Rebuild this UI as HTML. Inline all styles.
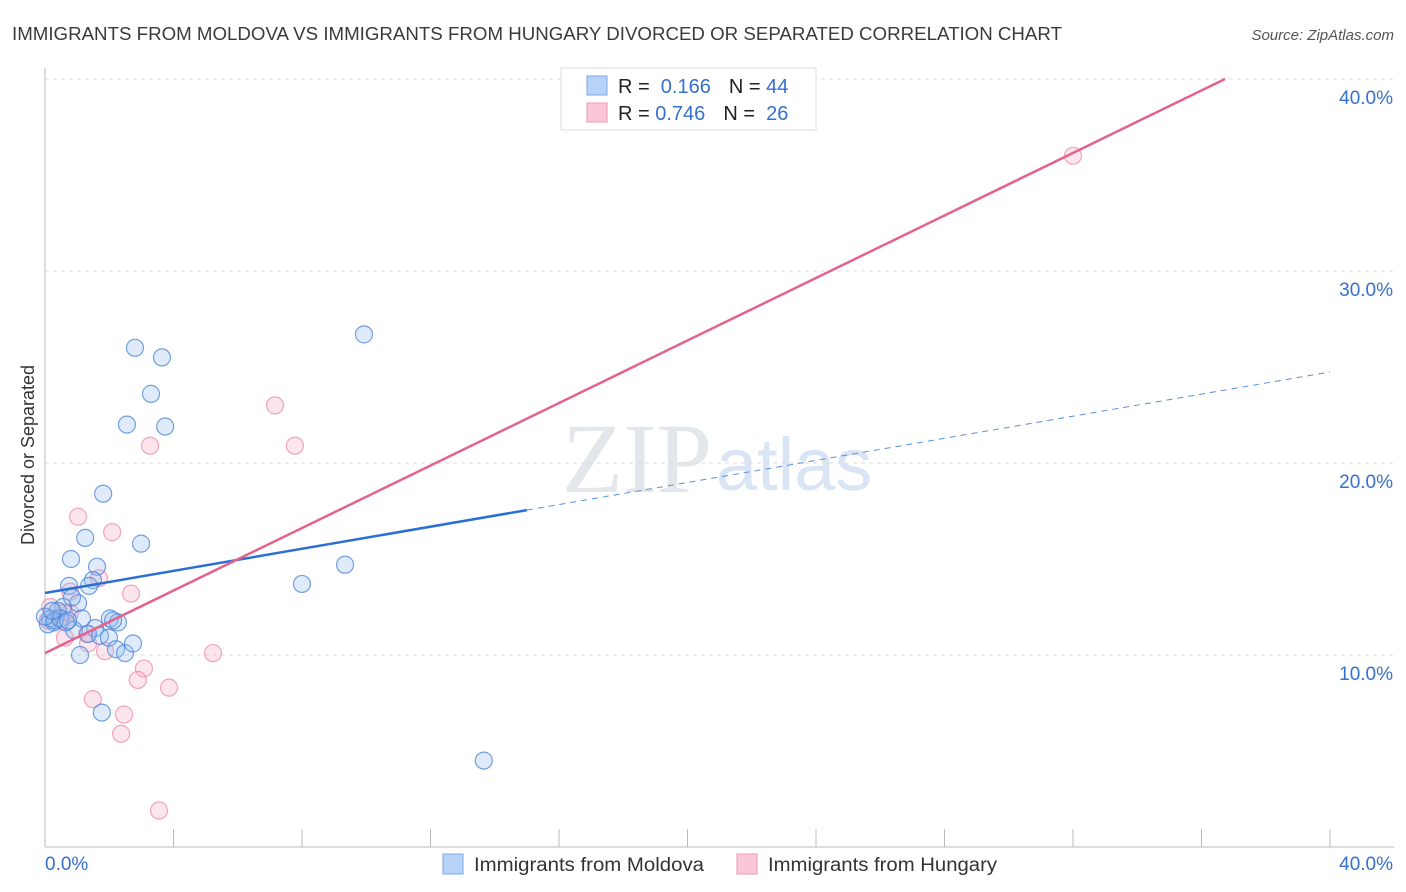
<!DOCTYPE html>
<html><head><meta charset="utf-8"><style>
body{margin:0;background:#fff;font-family:"Liberation Sans",sans-serif;}
svg{display:block}
</style></head><body>
<svg id="c" width="1406" height="892" xmlns="http://www.w3.org/2000/svg">
<text x="12" y="40" font-size="18" fill="#3a3a3a" textLength="1050" lengthAdjust="spacingAndGlyphs">IMMIGRANTS FROM MOLDOVA VS IMMIGRANTS FROM HUNGARY DIVORCED OR SEPARATED CORRELATION CHART</text>
<text x="1394" y="40" font-size="15" fill="#555" font-style="italic" text-anchor="end">Source: ZipAtlas.com</text>
<text x="712" y="492" font-size="100" fill="#e3e6ea" text-anchor="end" font-family="Liberation Serif,serif">ZIP</text>
<text x="716" y="490" font-size="74" fill="#d9e5f4">atlas</text>
<text transform="translate(34,455) rotate(-90)" font-size="18" fill="#333" text-anchor="middle">Divorced or Separated</text>
<g id="grid"></g><g id="axes"></g><g id="pts"></g><g id="lines"></g>
<g>
<rect x="561" y="68" width="255" height="62" fill="#fff" stroke="#ddd"/>
<rect x="587" y="76" width="20" height="19" fill="#b6d3f7" stroke="#7aa7e6"/>
<rect x="587" y="103" width="20" height="19" fill="#fbc6d6" stroke="#ee9ab5"/>
<text x="618" y="93" font-size="20" fill="#222">R = <tspan fill="#3570cc">&#160;0.166</tspan><tspan dx="18">N = </tspan><tspan fill="#3570cc">44</tspan></text>
<text x="618" y="120" font-size="20" fill="#222">R = <tspan fill="#3570cc">0.746</tspan><tspan dx="18">N = </tspan><tspan fill="#3570cc">&#160;26</tspan></text>
</g>
<g>
<rect x="443" y="854" width="20" height="20" fill="#b6d3f7" stroke="#7aa7e6"/>
<text x="474" y="871" font-size="19" fill="#333" textLength="230" lengthAdjust="spacingAndGlyphs">Immigrants from Moldova</text>
<rect x="737" y="854" width="20" height="20" fill="#fbc6d6" stroke="#ee9ab5"/>
<text x="768" y="871" font-size="19" fill="#333" textLength="229" lengthAdjust="spacingAndGlyphs">Immigrants from Hungary</text>
</g>
</svg>
<script>
const yTicks=[10,20,30,40];
const yTickLabels=["10.0%","20.0%","30.0%","40.0%"];
const xTickLabels=["0.0%","40.0%"];
const moldovaX=[2.8,3.64,9.93,3.3,2.55,3.74,1.81,1.25,2.99,0.81,9.34,8.0,1.62,0.75,1.49,1.37,1.03,0.56,0.4,0.16,0.28,0.09,1.15,2.02,2.27,1.56,0.9,1.34,1.71,1.99,2.21,2.49,2.74,1.09,1.77,13.66,0.31,0.47,0.0,0.65,2.12,0.72,0.22,0.84];
const moldovaY=[26.0,25.5,26.7,23.6,22.0,21.9,18.4,16.1,15.8,15.0,14.7,13.7,14.6,13.6,13.9,13.6,12.7,12.5,12.3,11.9,11.7,11.6,11.9,11.9,11.7,11.4,11.3,11.1,11.0,10.9,10.3,10.1,10.6,10.0,7.0,4.5,11.8,11.9,12.0,11.7,11.8,11.8,12.3,13.0];
const hungaryX=[32.0,7.16,7.78,3.27,1.03,2.09,1.68,2.68,0.78,0.59,0.53,0.16,0.09,0.62,1.31,1.34,1.87,3.08,2.89,3.86,5.23,1.49,2.46,2.37,3.55,0.78];
const hungaryY=[36.0,23.0,20.9,20.9,17.2,16.4,14.0,13.2,13.3,12.2,11.8,12.5,11.8,10.9,11.1,10.6,10.2,9.3,8.7,8.3,10.1,7.7,6.9,5.9,1.9,12.2];
const trendBlue=[13.23,24.74,15.0];
const trendPink=[10.1,0.814];
const X=v=>45+v*32.125, Y=v=>847-v*19.2;
const NS="http://www.w3.org/2000/svg";
function mk(p,t,a){const e=document.createElementNS(NS,t);for(const k in a)e.setAttribute(k,a[k]);document.getElementById(p).appendChild(e);return e;}
yTicks.forEach((t,i)=>{
 let l=mk('grid','line',{x1:45,x2:1394,y1:Y(t),y2:Y(t),stroke:'#dcdcdc','stroke-dasharray':'4,4'});
 
 
 let tx=mk('axes','text',{x:1393,y:Y(t)+25,'font-size':19,fill:'#3570cc','text-anchor':'end'});tx.textContent=yTickLabels[i];
 
 
});
let ax=mk('axes','line',{x1:45,x2:45,y1:68,y2:847,stroke:'#bbb'});


let bx=mk('axes','line',{x1:45,x2:1394,y1:847,y2:847,stroke:'#bbb'});


for(let i=1;i<=10;i++){let t=mk('axes','line',{x1:X(i*4),x2:X(i*4),y1:829,y2:847,stroke:'#bbb'});
 
 }
let x0=mk('axes','text',{x:45,y:870,'font-size':19,fill:'#3570cc'});x0.textContent=xTickLabels[0];


let x1=mk('axes','text',{x:1393,y:870,'font-size':19,fill:'#3570cc','text-anchor':'end'});x1.textContent=xTickLabels[1];


hungaryX.forEach((v,i)=>{let c=mk('pts','circle',{cx:X(v),cy:Y(hungaryY[i]),r:8.5,fill:'rgba(248,170,195,0.3)',stroke:'rgba(235,130,165,0.7)','stroke-width':1.2});
 
 });
moldovaX.forEach((v,i)=>{let c=mk('pts','circle',{cx:X(v),cy:Y(moldovaY[i]),r:8.5,fill:'rgba(150,190,240,0.3)',stroke:'rgba(70,130,215,0.75)','stroke-width':1.2});
 
 });
const bY=x=>trendBlue[0]+(trendBlue[1]-trendBlue[0])*x/40;
let b1=mk('lines','line',{x1:X(0),y1:Y(bY(0)),x2:X(trendBlue[2]),y2:Y(bY(trendBlue[2])),stroke:'#2a6fd3','stroke-width':2.5});


let b2=mk('lines','line',{x1:X(trendBlue[2]),y1:Y(bY(trendBlue[2])),x2:X(40),y2:Y(bY(40)),stroke:'#5a8fd8','stroke-width':1,'stroke-dasharray':'6,5'});


const pEnd=(40-trendPink[0])/trendPink[1];
let p1=mk('lines','line',{x1:X(0),y1:Y(trendPink[0]),x2:X(pEnd),y2:Y(40),stroke:'#e4628f','stroke-width':2.5});


</script>
</body></html>
